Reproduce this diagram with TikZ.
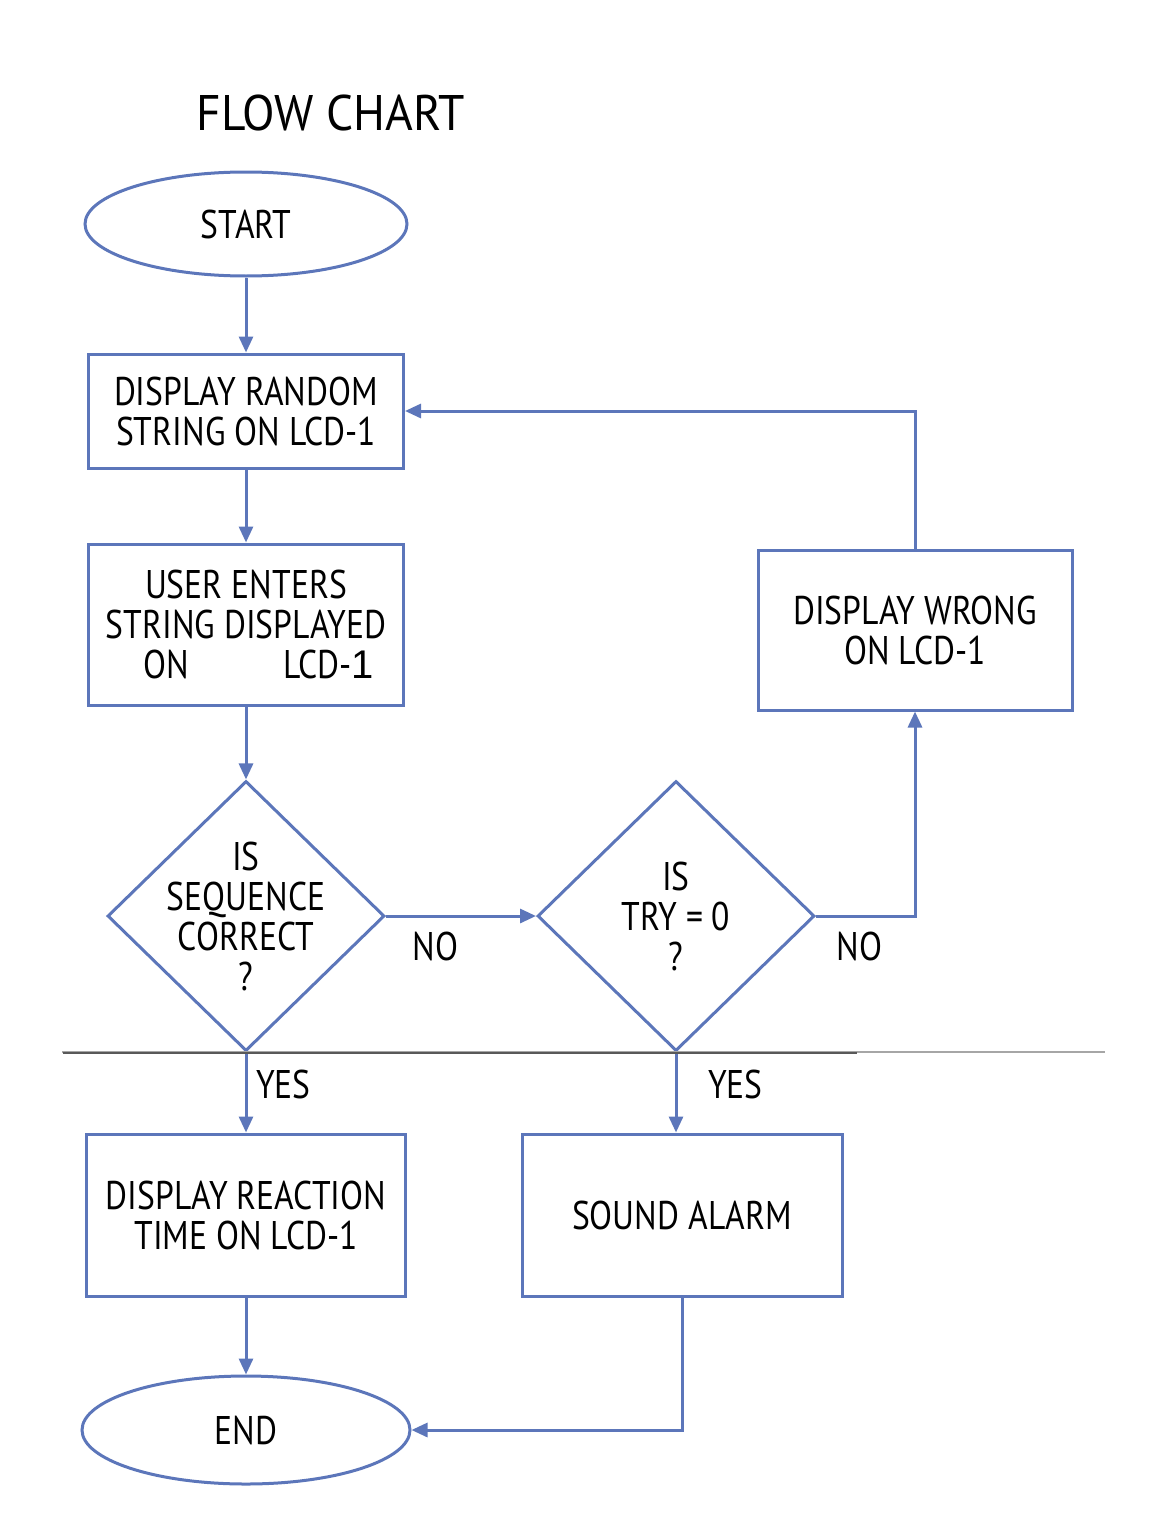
\documentclass[tikz,border=0pt]{standalone}
\usepackage{fontspec}
\setmainfont{PT Sans}[FakeStretch=0.84]
\newfontfamily\titlefont{PT Sans}[FakeStretch=0.95]
\newfontfamily\digitfont{Liberation Sans}
\usetikzlibrary{positioning,shapes.geometric,arrows.meta}
\definecolor{flowblue}{RGB}{92,118,186}

\begin{document}
\begin{tikzpicture}[
        x=1pt, y=1pt,
        box/.style = {rectangle, draw=flowblue, line width=1.5pt, fill=white, minimum width=157.5pt, minimum height=57pt, align=center, font=\fontsize{20}{20}\selectfont},
        terminal/.style = {ellipse, draw=flowblue, line width=1.5pt, fill=white, minimum width=161pt, minimum height=52pt, font=\fontsize{20}{20}\selectfont},
        decision/.style = {diamond, draw=flowblue, line width=1.5pt, minimum width=138.5pt, minimum height=135pt, inner sep=0pt},
        query/.style = {align=center, font=\fontsize{20}{20}\selectfont},
        answer/.style = {font=\fontsize{20}{20}\selectfont},
        flow/.style = {draw=flowblue, line width=1.5pt, -{Triangle[length=8pt,width=7pt]}}
    ]
    \useasboundingbox (0,0) rectangle (583,-768);
    \node[font=\titlefont\fontsize{25}{25}\selectfont] (title) at (165.5,-56.5) {FLOW CHART};

    \node[terminal] (start) at (123,-112) {START};
    \node[box] (random) [below=37.5pt of start] {DISPLAY RANDOM\\STRING ON LCD-1};
    \node[box, minimum height=80.5pt] (enter) [below=36.5pt of random] {USER ENTERS\\STRING DISPLAYED\\\hspace*{13pt}ON\hspace{47pt}LCD-{\digitfont 1}};
    \node[decision, label={[query]center:{IS\\SEQUENCE\\CORRECT\\?}}] (check) [below=36.5pt of enter] {};
    \node[decision, label={[query]center:{IS\\TRY = 0\\?}}] (tries) [right=75pt of check] {};
    \node[box, minimum width=157pt, minimum height=80pt] (wrong) at (457.5,-315) {DISPLAY WRONG\\ON LCD-1};
    \node[box, minimum width=159.5pt, minimum height=81pt] (reaction) [below=40pt of check] {DISPLAY REACTION\\TIME ON LCD-1};
    \node[box, minimum width=160pt, minimum height=81pt] (alarm) [below=40pt of tries, xshift=3pt] {SOUND ALARM};
    \node[terminal, minimum width=164pt, minimum height=54pt] (end) [below=38.5pt of reaction] {END};

    \draw[flow] (start) -- (random);
    \draw[flow] (random) -- (enter);
    \draw[flow] (enter) -- (check);
    \draw[flow] (check) -- node[answer, below, pos=0.33, yshift=-4pt] {NO} (tries);
    \draw[flow] (tries.east) -| node[answer, below, pos=0.22, yshift=-4pt] {NO} (wrong.south);
    \draw[flow] (wrong.north) |- (random.east);
    \draw[flow] (check) -- node[answer, right, pos=0.4, xshift=1pt] {YES} (reaction);
    \draw[flow] (tries.south) -- node[answer, right, pos=0.4, xshift=12pt] {YES} (tries.south |- alarm.north);
    \draw[flow] (reaction) -- (end);
    \draw[flow] (alarm.south) |- (end.east);

    % divider
    \draw[gray!70, line width=0.6pt] (31,-526) -- (552.5,-526);
    \draw[black!65, line width=1.2pt] (31.5,-526.5) -- (428.5,-526.5);
\end{tikzpicture}
\end{document}
